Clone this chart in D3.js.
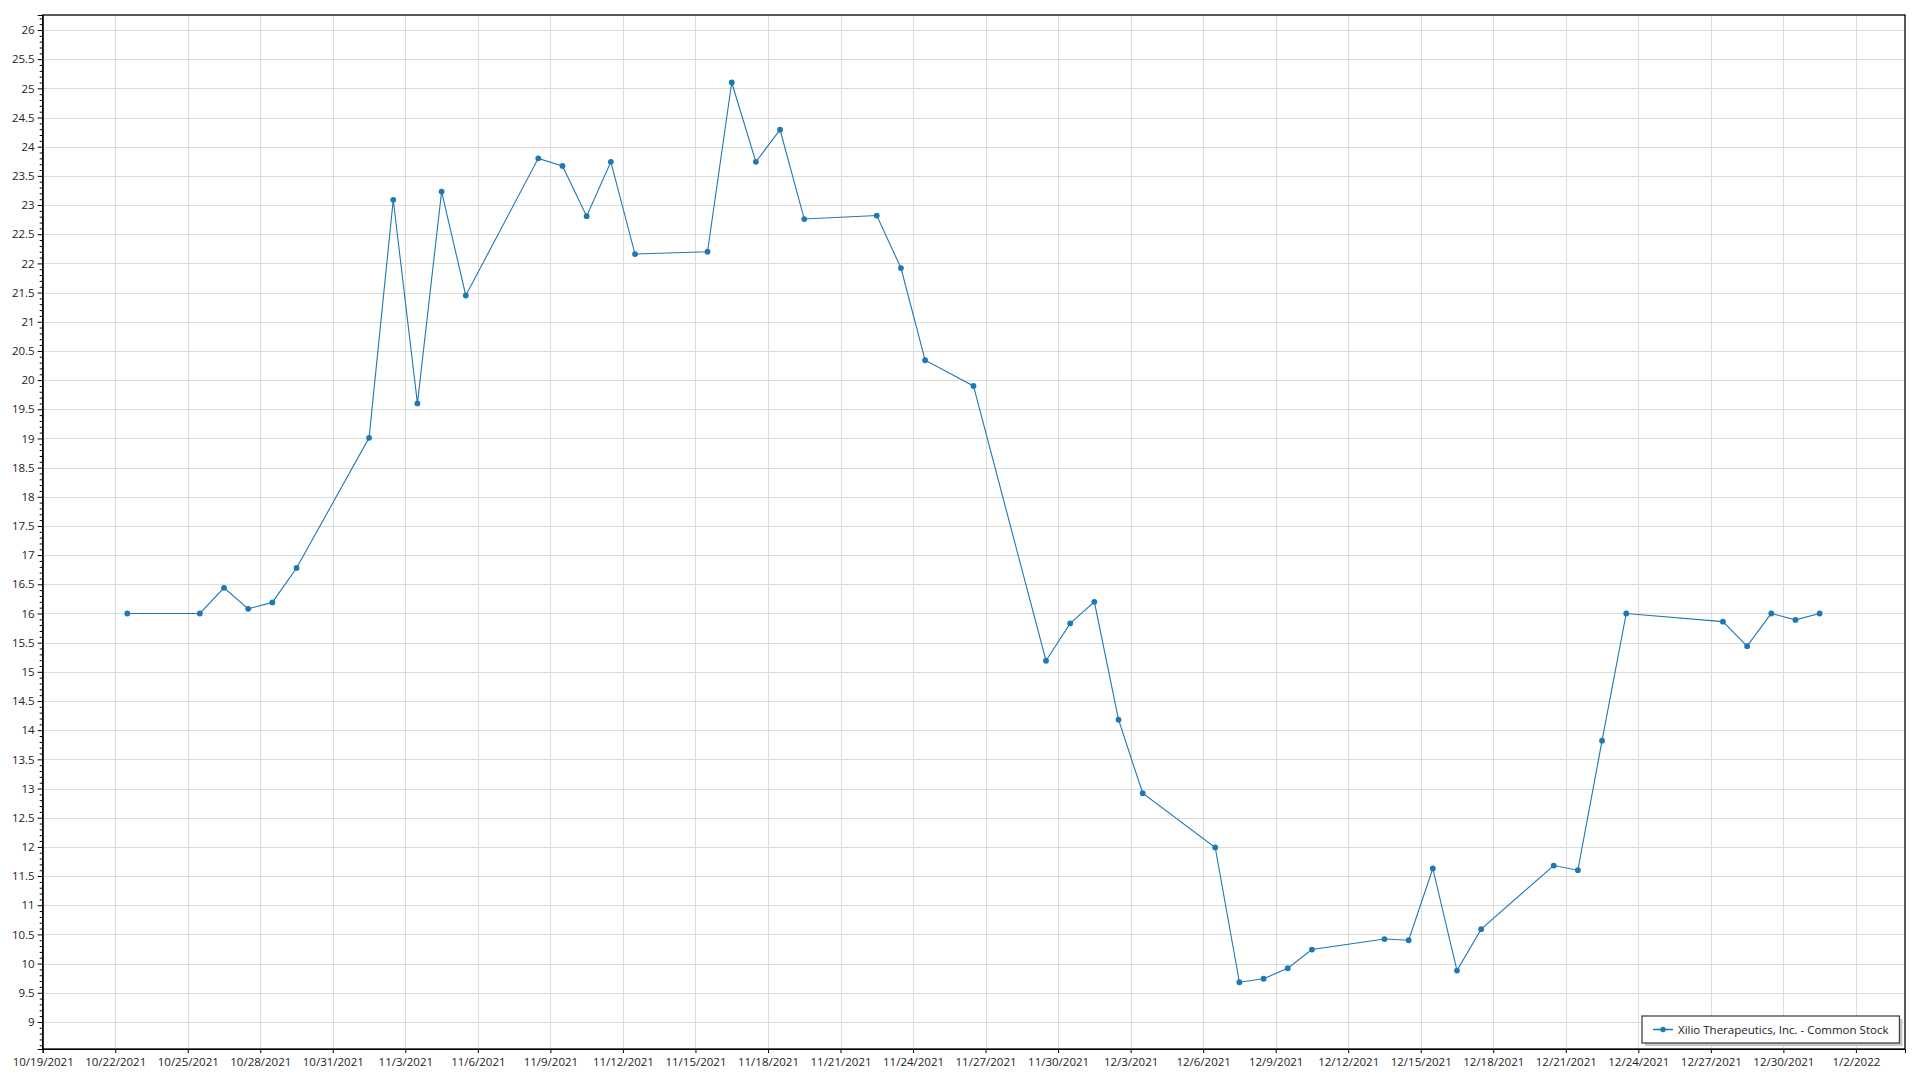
<!DOCTYPE html>
<html><head><meta charset="utf-8">
<script src="https://cdn.jsdelivr.net/npm/d3@7"></script>
<style>
html,body{margin:0;padding:0;background:#fff;}
svg{display:block;}
text{font-family:"Segoe UI","Open Sans","Noto Sans",sans-serif;}
</style></head>
<body>
<svg id="chart" width="1920" height="1080"></svg>
<script>
const seriesName = "Xilio Therapeutics, Inc. - Common Stock";
const dates = ["2021-10-22","2021-10-25","2021-10-26","2021-10-27","2021-10-28","2021-10-29",
"2021-11-01","2021-11-02","2021-11-03","2021-11-04","2021-11-05",
"2021-11-08","2021-11-09","2021-11-10","2021-11-11","2021-11-12",
"2021-11-15","2021-11-16","2021-11-17","2021-11-18","2021-11-19",
"2021-11-22","2021-11-23","2021-11-24","2021-11-26",
"2021-11-29","2021-11-30","2021-12-01","2021-12-02","2021-12-03",
"2021-12-06","2021-12-07","2021-12-08","2021-12-09","2021-12-10",
"2021-12-13","2021-12-14","2021-12-15","2021-12-16","2021-12-17",
"2021-12-20","2021-12-21","2021-12-22","2021-12-23",
"2021-12-27","2021-12-28","2021-12-29","2021-12-30","2021-12-31"];
const prices = [16.00,16.00,16.44,16.08,16.19,16.78,
19.01,23.09,19.60,23.23,21.45,
23.80,23.67,22.81,23.74,22.16,
22.20,25.10,23.74,24.29,22.76,
22.82,21.92,20.34,19.90,
15.19,15.83,16.20,14.18,12.92,
11.99,9.68,9.74,9.92,10.24,
10.42,10.40,11.63,9.88,10.59,
11.68,11.60,13.82,16.00,
15.86,15.44,16.00,15.89,16.00];
const xTickLabels = ["10/19/2021","10/22/2021","10/25/2021","10/28/2021","10/31/2021","11/3/2021","11/6/2021","11/9/2021","11/12/2021","11/15/2021","11/18/2021","11/21/2021","11/24/2021","11/27/2021","11/30/2021","12/3/2021","12/6/2021","12/9/2021","12/12/2021","12/15/2021","12/18/2021","12/21/2021","12/24/2021","12/27/2021","12/30/2021","1/2/2022"];
const yTickValues = [9,9.5,10,10.5,11,11.5,12,12.5,13,13.5,14,14.5,15,15.5,16,16.5,17,17.5,18,18.5,19,19.5,20,20.5,21,21.5,22,22.5,23,23.5,24,24.5,25,25.5,26];

const svg = d3.select("#chart");
const L = 42.7, R = 1905, T = 15, B = 1049;
const parseTick = d3.timeParse("%m/%d/%Y");
const parseDate = d3.timeParse("%Y-%m-%d");
const data = dates.map((d,i)=>({date: d3.timeHour.offset(parseDate(d),12), v: prices[i]}));

const x = d3.scaleTime()
  .domain([new Date(2021,9,19), new Date(2022,0,4,0,45)])
  .range([L, R]);
const y = d3.scaleLinear().domain([8.536, 26.257]).range([B, T]);

const xTicks = xTickLabels.map(parseTick);
const gridColor = "#dcdcdc";

// grid
svg.append("g").selectAll("line").data(xTicks).join("line")
  .attr("x1", d=>Math.round(x(d))+0.5).attr("x2", d=>Math.round(x(d))+0.5)
  .attr("y1", T).attr("y2", B).attr("stroke", gridColor).attr("stroke-width",1);
svg.append("g").selectAll("line").data(yTickValues).join("line")
  .attr("x1", L).attr("x2", R)
  .attr("y1", d=>Math.round(y(d))+0.5).attr("y2", d=>Math.round(y(d))+0.5)
  .attr("stroke", gridColor).attr("stroke-width",1);

// frame
svg.append("rect").attr("x", L).attr("y", T).attr("width", R-L).attr("height", B-T)
  .attr("fill","none").attr("stroke","#000").attr("stroke-width",1.3);

// y axis minor ticks
const minor = d3.range(86, 263).map(v=>v/10).filter(v=>Math.abs(v*2-Math.round(v*2))>1e-6);
const yAxisMinor = d3.axisLeft(y).tickValues(minor).tickSize(3).tickFormat("");
svg.append("g").attr("transform",`translate(${L},0)`).call(yAxisMinor)
  .call(g=>g.select(".domain").remove())
  .call(g=>g.selectAll("line").attr("stroke","#000"));

const yAxis = d3.axisLeft(y).tickValues(yTickValues).tickSize(5).tickPadding(3)
  .tickFormat(d=>d3.format("~g")(d));
svg.append("g").attr("transform",`translate(${L},0)`).call(yAxis)
  .call(g=>g.select(".domain").attr("stroke","#000"))
  .call(g=>g.selectAll("line").attr("stroke","#000"))
  .call(g=>g.selectAll("text").attr("font-size",11.5).attr("fill","#222")
     .attr("font-family",'"Segoe UI","Open Sans","Noto Sans",sans-serif'));

const xAxis = d3.axisBottom(x).tickValues(xTicks).tickSize(4).tickPadding(5)
  .tickFormat((d,i)=>xTickLabels[i]);
svg.append("g").attr("transform",`translate(0,${B})`).call(xAxis)
  .call(g=>g.select(".domain").attr("stroke","#000"))
  .call(g=>g.selectAll("line").attr("stroke","#000"))
  .call(g=>g.selectAll("text").attr("font-size",11.5).attr("fill","#222")
     .attr("font-family",'"Segoe UI","Open Sans","Noto Sans",sans-serif'));

// line
const color = "#1f77b4";
const line = d3.line().x(d=>x(d.date)).y(d=>y(d.v));
svg.append("path").datum(data).attr("d", line)
  .attr("fill","none").attr("stroke", color).attr("stroke-width",1.1);
svg.append("g").selectAll("circle").data(data).join("circle")
  .attr("cx", d=>x(d.date)).attr("cy", d=>y(d.v)).attr("r", 2.9).attr("fill", color);

// legend
const lg = svg.append("g");
const lx = 1642, ly = 1016, lh = 27;
const shadow = lg.append("rect");
const box = lg.append("rect");
lg.append("line").attr("x1", lx+11).attr("x2", lx+31).attr("y1", ly+lh/2).attr("y2", ly+lh/2)
  .attr("stroke", color).attr("stroke-width",1.5);
lg.append("circle").attr("cx", lx+21).attr("cy", ly+lh/2).attr("r",2.7).attr("fill", color);
const lt = lg.append("text").attr("x", lx+36).attr("y", ly+lh/2).attr("dy","0.35em")
  .attr("font-size",11.5).attr("fill","#222").text(seriesName);
const tw = lt.node().getComputedTextLength();
const lw = 36 + tw + 11;
shadow.attr("x", lx+3).attr("y", ly+3).attr("width", lw).attr("height", lh).attr("fill","#c8c8c8");
box.attr("x", lx).attr("y", ly).attr("width", lw).attr("height", lh)
  .attr("fill","#fff").attr("stroke","#444").attr("stroke-width",1.3);
</script>
</body></html>
